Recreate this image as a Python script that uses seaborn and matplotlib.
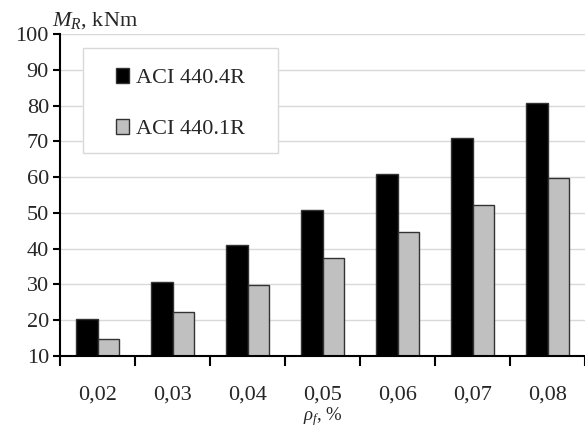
import matplotlib
matplotlib.use("Agg")
import matplotlib.pyplot as plt
from matplotlib.patches import Rectangle
import seaborn as sns
import pandas as pd

# data
ratios = ["0,02", "0,03", "0,04", "0,05", "0,06", "0,07", "0,08"]
aci_440_4r = [20.3, 30.8, 41.0, 50.7, 60.9, 70.8, 80.6]
aci_440_1r = [14.8, 22.2, 29.8, 37.3, 44.6, 52.2, 59.8]
series_names = ["ACI 440.4R", "ACI 440.1R"]

sns.set_style("white")
plt.rcParams["font.family"] = ["Liberation Serif", "DejaVu Serif"]
plt.rcParams["mathtext.fontset"] = "custom"
plt.rcParams["mathtext.rm"] = "Liberation Serif"
plt.rcParams["mathtext.it"] = "Liberation Serif:italic"

df = pd.DataFrame({
    "ratio": ratios * 2,
    "moment": aci_440_4r + aci_440_1r,
    "code": [series_names[0]] * len(ratios) + [series_names[1]] * len(ratios),
})

fig = plt.figure(figsize=(5.85, 4.28), dpi=100)
ax = fig.add_axes([0.1026, 0.1682, 0.8974, 0.7524])

sns.barplot(data=df, x="ratio", y="moment", hue="code",
            palette=["black", "#c0c0c0"], width=0.58, saturation=1,
            edgecolor="#333333", linewidth=1.0, ax=ax)

ax.set_ylim(10, 100)
ax.set_xlim(-0.5, 6.5)
ax.set_yticks(range(10, 101, 10))
ax.tick_params(axis="y", labelsize=16, length=5, width=1.5, direction="out",
               left=True, color="black", pad=3)
ax.set_xticks(range(len(ratios)))
ax.set_xticklabels(ratios)
ax.tick_params(axis="x", which="major", labelsize=16, length=0, pad=21)
ax.set_xticks([i - 0.5 for i in range(len(ratios) + 1)], minor=True)
ax.tick_params(axis="x", which="minor", length=7, width=1.5, direction="out",
               bottom=True, color="black")

ax.yaxis.grid(True, color="#d9d9d9", linewidth=1.0)
ax.set_axisbelow(True)
for side in ["top", "right"]:
    ax.spines[side].set_visible(False)
for side in ["left", "bottom"]:
    ax.spines[side].set_color("black")
    ax.spines[side].set_linewidth(1.5)

ax.set_xlabel(r"$\rho_f$, %", fontsize=13.5, labelpad=0.5)
ax.set_ylabel("")
ax.text(-0.016, 1.01, r"$M_R$, kNm", transform=ax.transAxes, fontsize=16,
        ha="left", va="bottom")

# legend frame (white box over the gridlines)
ax.add_patch(Rectangle((0.044, 0.631), 0.371, 0.326, transform=ax.transAxes,
                       facecolor="white", edgecolor="#d9d9d9", linewidth=1.0,
                       zorder=4))
leg = ax.legend(loc="upper left", bbox_to_anchor=(0.106, 0.893), fontsize=16,
                frameon=False, borderpad=0, borderaxespad=0, labelspacing=1.4,
                handlelength=0.6, handleheight=0.6, handletextpad=0.3, title=None)
leg.set_zorder(5)

fig.savefig("out.png", dpi=100)
